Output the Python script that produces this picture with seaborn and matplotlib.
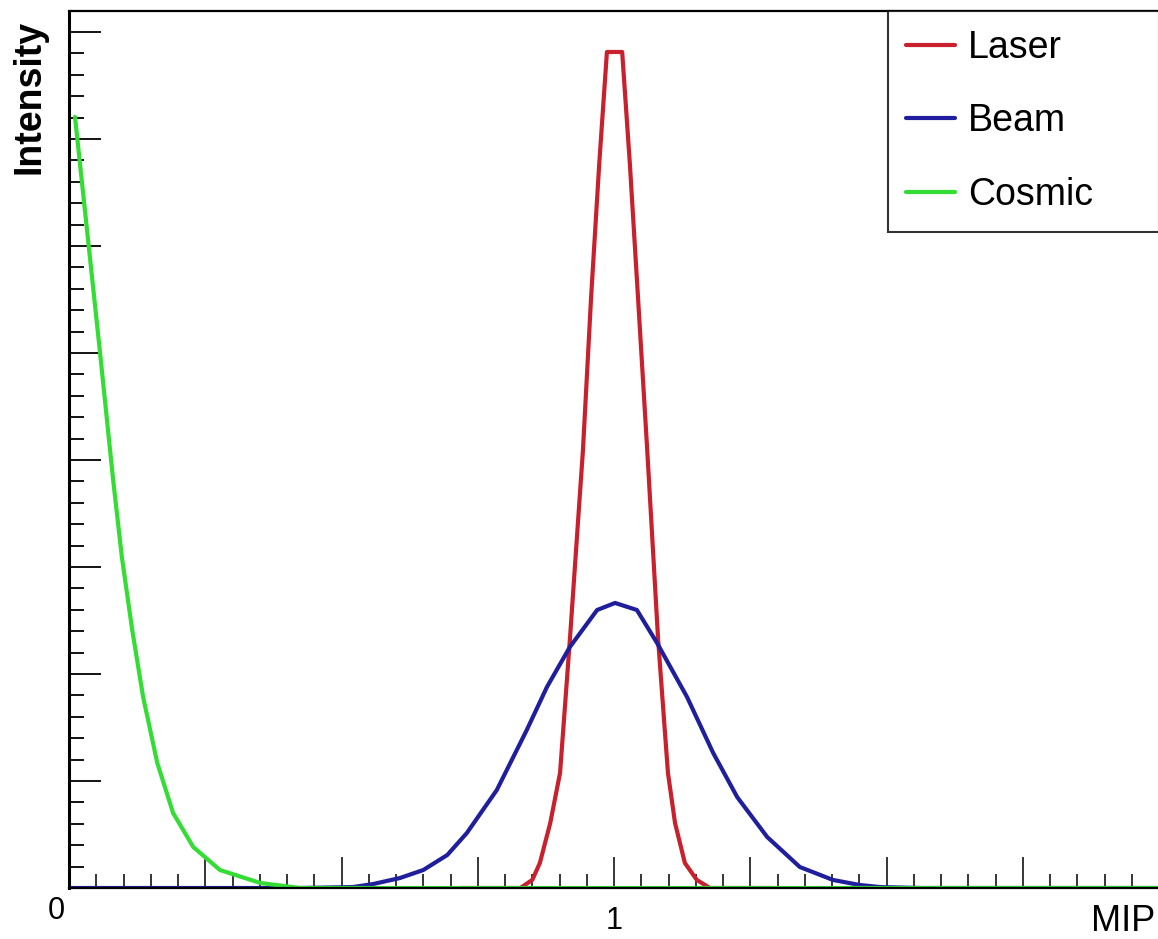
import numpy as np
import pandas as pd
import seaborn as sns
import matplotlib
matplotlib.use("Agg")
import matplotlib.pyplot as plt
from matplotlib.ticker import MultipleLocator, FuncFormatter
from matplotlib.transforms import ScaledTranslation

# ---- data (x in MIP, y in arbitrary intensity units) ----
laser_x = [0.72, 0.828, 0.850, 0.864, 0.883, 0.901, 0.919, 0.943, 0.958, 0.973,
           0.987, 1.015, 1.029, 1.044, 1.061, 1.081, 1.099, 1.112, 1.130, 1.152,
           1.176, 1.29]
laser_y = [0.0, 0.0, 0.075, 0.234, 0.607, 1.075, 2.318, 4.09, 5.523, 6.776,
           7.813, 7.813, 6.776, 5.523, 4.09, 2.318, 1.075, 0.607, 0.234, 0.075,
           0.0, 0.0]

beam_x = [0.0, 0.424, 0.521, 0.558, 0.607, 0.650, 0.694, 0.730, 0.785, 0.840,
          0.877, 0.919, 0.969, 1.002, 1.042, 1.079, 1.134, 1.182, 1.226, 1.281,
          1.341, 1.402, 1.451, 1.488, 1.562, 2.0]
beam_y = [0.0, 0.0, 0.009, 0.037, 0.093, 0.168, 0.308, 0.514, 0.916, 1.477,
          1.879, 2.252, 2.598, 2.664, 2.598, 2.290, 1.785, 1.262, 0.850, 0.477,
          0.196, 0.075, 0.028, 0.009, 0.0, 0.0]

cosmic_x = [0.011, 0.035, 0.057, 0.081, 0.097, 0.116, 0.136, 0.162, 0.191, 0.228,
            0.277, 0.351, 0.424, 2.0]
cosmic_y = [7.206, 6.056, 5.0, 3.813, 3.093, 2.411, 1.785, 1.168, 0.701, 0.383,
            0.168, 0.047, 0.0, 0.0]

series_names = ["Laser", "Beam", "Cosmic"]
series_colors = ["#c8202c", "#1f1f9e", "#33dd33"]

df = pd.concat([
    pd.DataFrame({"MIP": laser_x, "Intensity": laser_y, "series": "Laser"}),
    pd.DataFrame({"MIP": beam_x, "Intensity": beam_y, "series": "Beam"}),
    pd.DataFrame({"MIP": cosmic_x, "Intensity": cosmic_y, "series": "Cosmic"}),
], ignore_index=True)

sns.set_theme(style="white")
plt.rcParams["font.family"] = ["Liberation Sans", "DejaVu Sans"]
plt.rcParams["text.color"] = "black"
plt.rcParams["axes.labelcolor"] = "black"
plt.rcParams["xtick.color"] = "black"
plt.rcParams["ytick.color"] = "black"

W, H = 1158, 939
fig = plt.figure(figsize=(W / 100, H / 100), dpi=100)
ax = fig.add_axes([69 / W, 51 / H, 1090 / W, 877 / H])

sns.lineplot(data=df, x="MIP", y="Intensity", hue="series",
             hue_order=series_names, palette=dict(zip(series_names, series_colors)),
             estimator=None, sort=False, linewidth=3.0, ax=ax)

ax.set_xlim(0, 2.0)
ax.set_ylim(0, 8.196)

for s in ax.spines.values():
    s.set_color("black")
    s.set_linewidth(1.6)
ax.spines["left"].set_linewidth(2.2)

ax.xaxis.set_major_locator(MultipleLocator(0.25))
ax.xaxis.set_minor_locator(MultipleLocator(0.05))
ax.yaxis.set_major_locator(MultipleLocator(1.0))
ax.yaxis.set_minor_locator(MultipleLocator(0.2))

def xfmt(v, pos):
    if abs(v) < 1e-9:
        return "0"
    if abs(v - 1.0) < 1e-9:
        return "1"
    return ""

ax.xaxis.set_major_formatter(FuncFormatter(xfmt))
ax.yaxis.set_major_formatter(FuncFormatter(lambda v, p: ""))

ax.tick_params(axis="both", which="both", direction="in", color="black",
               labelcolor="black", bottom=True, left=True, top=False, right=False)
ax.tick_params(axis="x", which="major", length=22, width=1.1, pad=13, labelsize=22)
ax.tick_params(axis="x", which="minor", length=10, width=1.1)
ax.tick_params(axis="y", which="major", length=23, width=1.3)
ax.tick_params(axis="y", which="minor", length=11, width=1.3)

# shift the "0" label a little left/up like the reference
fig.canvas.draw()
for t in ax.xaxis.get_major_ticks():
    if t.label1.get_text() == "0":
        t.label1.set_transform(t.label1.get_transform() +
                               ScaledTranslation(-0.13, 0.10, fig.dpi_scale_trans))

ax.set_xlabel("MIP", fontsize=26, loc="right", color="black")
ax.xaxis.set_label_coords(0.997, -0.018)
ax.xaxis.label.set_va("top")

ax.set_ylabel("Intensity", fontsize=27, fontweight="bold", loc="top", color="black")
ax.yaxis.set_label_coords(-0.020, 0.990)

leg = ax.legend(title=None, fontsize=27, loc="upper left",
                bbox_to_anchor=(0.751, 0.0, 0.249, 1.0), mode="expand",
                borderaxespad=0.0, frameon=True, fancybox=False,
                handlelength=1.3, handletextpad=0.35, labelspacing=1.0,
                borderpad=0.5)
leg.get_frame().set_edgecolor("black")
leg.get_frame().set_linewidth(1.5)
for txt in leg.get_texts():
    txt.set_color("black")
for h in leg.get_lines():
    h.set_linewidth(3.0)

fig.savefig("out.png", dpi=100, facecolor="white")
